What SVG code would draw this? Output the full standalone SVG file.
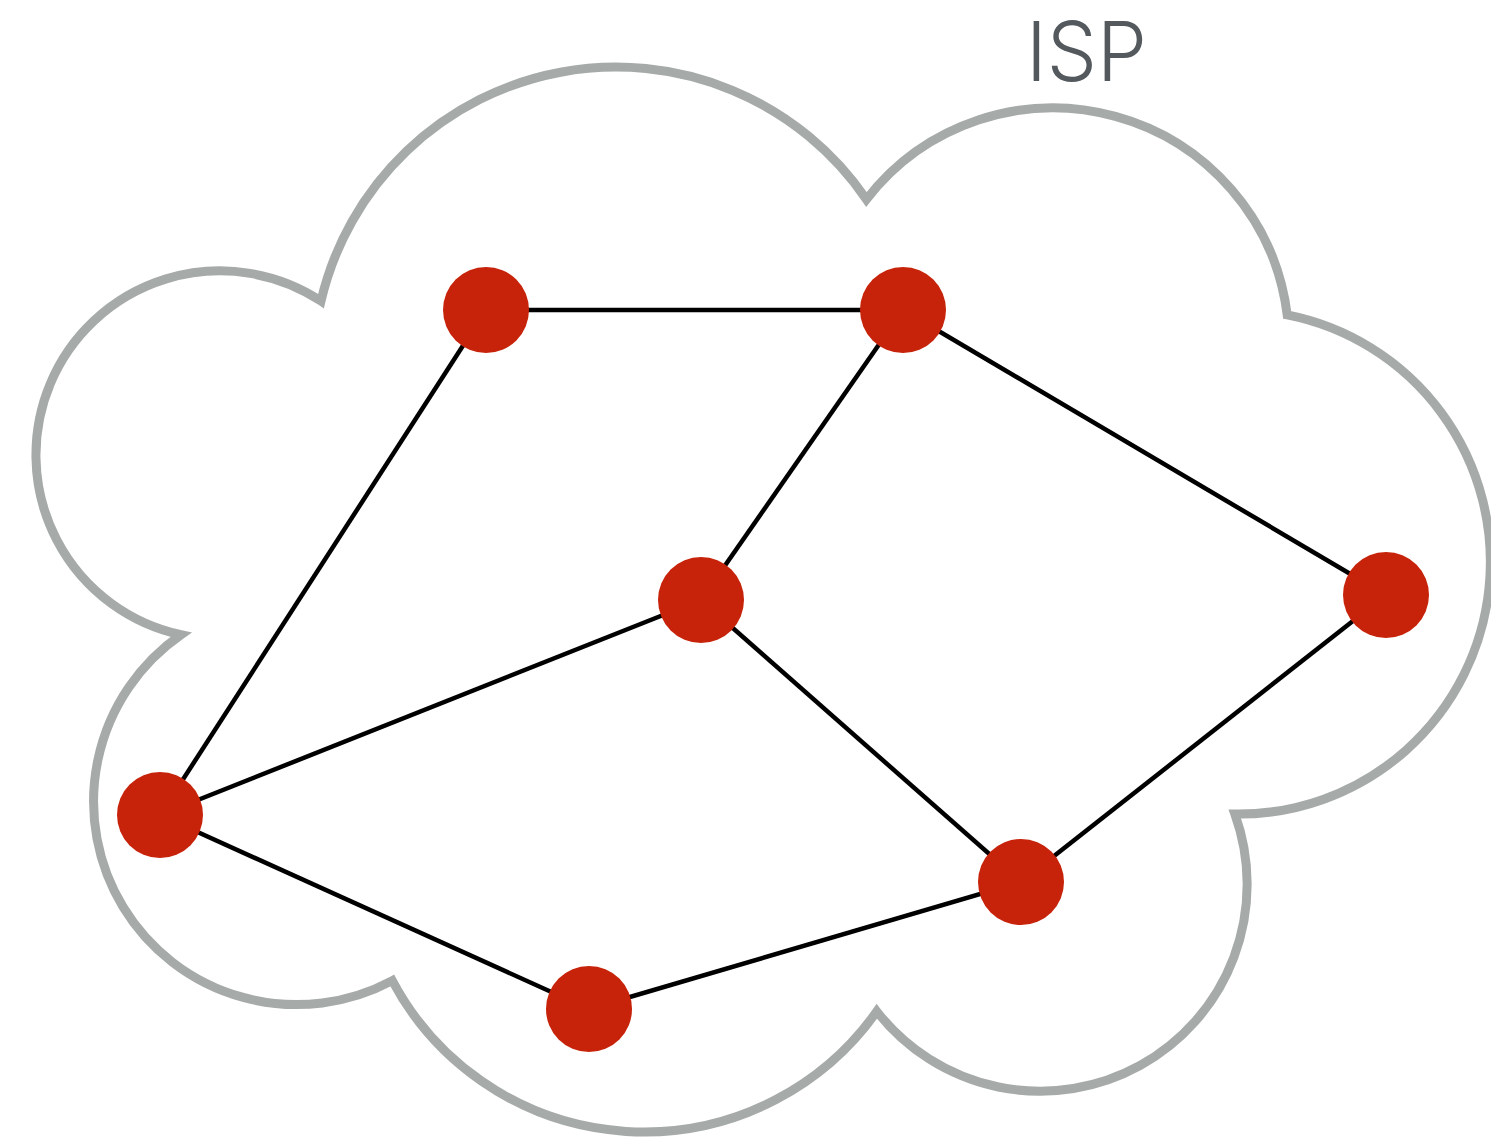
<svg xmlns="http://www.w3.org/2000/svg" width="1491" height="1140" viewBox="0 0 1491 1140">
<style>
.cloud{fill:#fff;stroke:#a6aaa9;stroke-width:9;stroke-linejoin:miter;stroke-miterlimit:20}
.edge{stroke:#000;stroke-width:4.5;fill:none}
.node{fill:#c7230a}
.lbl{font-family:"Inter","Liberation Sans",sans-serif;font-weight:300;font-size:82px;fill:#54595e}
</style>
<rect width="1491" height="1140" fill="#fff"/>
<g id="cloud">
<path class="cloud" d="M181,634.7 A184,184 0 1 1 321,301.1 A303,303 0 0 1 866.4,199.4 A236,236 0 0 1 1287.2,314.9 A252,252 0 0 1 1234.9,814.1 A207,207 0 0 1 876.8,1011.4 A285,285 0 0 1 392.3,980.6 A203,203 0 0 1 181,634.7 Z"/>
</g>
<text id="label-isp" class="lbl" x="1026" y="81" textLength="121" lengthAdjust="spacingAndGlyphs">ISP</text>
<g id="connectors">
<line class="edge" x1="486" y1="310" x2="903" y2="310"/>
<line class="edge" x1="486" y1="310" x2="160" y2="815"/>
<line class="edge" x1="903" y1="310" x2="701" y2="600"/>
<line class="edge" x1="903" y1="310" x2="1386" y2="595"/>
<line class="edge" x1="701" y1="600" x2="160" y2="815"/>
<line class="edge" x1="701" y1="600" x2="1021" y2="882"/>
<line class="edge" x1="1386" y1="595" x2="1021" y2="882"/>
<line class="edge" x1="160" y1="815" x2="589" y2="1009"/>
<line class="edge" x1="589" y1="1009" x2="1021" y2="882"/>
</g>
<g id="node-a"><circle class="node" cx="486" cy="310" r="43"/></g>
<g id="node-b"><circle class="node" cx="903" cy="310" r="43"/></g>
<g id="node-c"><circle class="node" cx="701" cy="600" r="43"/></g>
<g id="node-d"><circle class="node" cx="1386" cy="595" r="43"/></g>
<g id="node-e"><circle class="node" cx="160" cy="815" r="43"/></g>
<g id="node-f"><circle class="node" cx="1021" cy="882" r="43"/></g>
<g id="node-g"><circle class="node" cx="589" cy="1009" r="43"/></g>
</svg>
